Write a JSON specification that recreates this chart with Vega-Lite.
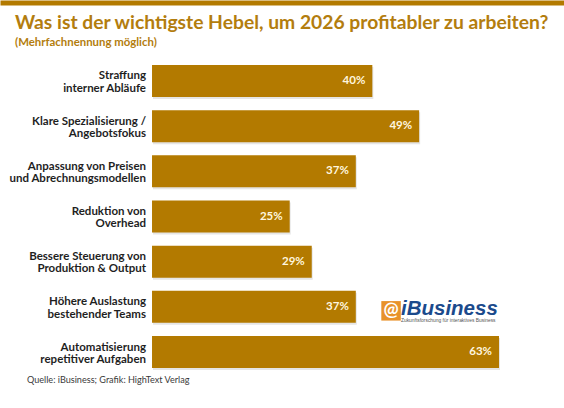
{
  "$schema": "https://vega.github.io/schema/vega-lite/v6.json",
  "width": 564,
  "height": 303,
  "autosize": "none",
  "padding": {"left": 0, "top": 65, "right": 0, "bottom": 40},
  "background": "white",
  "title": {
    "text": "Was ist der wichtigste Hebel, um 2026 profitabler zu arbeiten?",
    "subtitle": "(Mehrfachnennung möglich)",
    "anchor": "start",
    "frame": "group",
    "dx": 15,
    "offset": -46,
    "limit": 0,
    "font": "Lato",
    "fontSize": 19.3,
    "fontWeight": "bold",
    "color": "#B37D0E",
    "subtitleFont": "Lato",
    "subtitleFontSize": 11.4,
    "subtitleFontWeight": "bold",
    "subtitleColor": "#B37D0E",
    "subtitlePadding": 4
  },
  "datasets": {
    "bars": [
      {"frage": "Straffung|interner Abläufe", "anteil": 40, "label": "40%"},
      {"frage": "Klare Spezialisierung /|Angebotsfokus", "anteil": 48.5, "label": "49%"},
      {"frage": "Anpassung von Preisen|und Abrechnungsmodellen", "anteil": 37, "label": "37%"},
      {"frage": "Reduktion von|Overhead", "anteil": 25, "label": "25%"},
      {"frage": "Bessere Steuerung von|Produktion & Output", "anteil": 29, "label": "29%"},
      {"frage": "Höhere Auslastung|bestehender Teams", "anteil": 37, "label": "37%"},
      {"frage": "Automatisierung|repetitiver Aufgaben", "anteil": 63, "label": "63%"}
    ],
    "logo": [
      {"frage": "Höhere Auslastung|bestehender Teams", "pos": 43.4}
    ],
    "logotext": [
      {"frage": "Höhere Auslastung|bestehender Teams", "pos": 45.2}
    ],
    "quelle": [
      {"frage": "Automatisierung|repetitiver Aufgaben", "pos": -22.7, "text": "Quelle: iBusiness; Grafik: HighText Verlag"}
    ]
  },
  "encoding": {
    "y": {
      "field": "frage",
      "type": "nominal",
      "sort": null,
      "title": null,
      "axis": null,
      "scale": {"paddingInner": 0.2916, "paddingOuter": 0}
    }
  },
  "layer": [
    {
      "data": {"name": "bars"},
      "mark": {"type": "bar", "color": "#999999", "opacity": 0.25, "xOffset": 1, "yOffset": 2},
      "encoding": {
        "x": {
          "field": "anteil",
          "type": "quantitative",
          "scale": {"domain": [-27.6, 74.8], "nice": false, "zero": false},
          "axis": {
            "orient": "top",
            "offset": 62.5,
            "title": null,
            "labels": false,
            "ticks": false,
            "grid": false,
            "domain": true,
            "domainColor": "#B37A00",
            "domainWidth": 5
          }
        }
      }
    },
    {
      "data": {"name": "bars"},
      "mark": {"type": "bar", "color": "#B37A00"},
      "encoding": {"x": {"field": "anteil", "type": "quantitative"}}
    },
    {
      "data": {"name": "bars"},
      "mark": {"type": "text", "align": "right", "baseline": "middle", "dx": -7, "font": "Lato", "fontSize": 11.5, "fontWeight": "bold", "color": "#FFF6DF"},
      "encoding": {
        "x": {"field": "anteil", "type": "quantitative"},
        "text": {"field": "label"}
      }
    },
    {
      "data": {"name": "bars"},
      "mark": {"type": "text", "align": "right", "baseline": "middle", "dx": -6, "dy": -4.5, "lineBreak": "|", "lineHeight": 12.3, "font": "Lato", "fontSize": 11.5, "fontWeight": "bold", "color": "#1F1F1F"},
      "encoding": {
        "x": {"datum": 0},
        "text": {"field": "frage"}
      }
    },
    {
      "data": {"name": "quelle"},
      "mark": {"type": "text", "align": "left", "baseline": "middle", "dy": 28, "font": "Lato", "fontSize": 9.1, "color": "#3A3A3A"},
      "encoding": {
        "x": {"field": "pos", "type": "quantitative"},
        "text": {"field": "text"}
      }
    },
    {
      "data": {"name": "logo"},
      "mark": {"type": "point", "shape": "square", "filled": true, "size": 380, "opacity": 1, "color": "#E8922A", "yOffset": 4},
      "encoding": {"x": {"field": "pos", "type": "quantitative"}}
    },
    {
      "data": {"name": "logo"},
      "mark": {"type": "text", "text": "@", "align": "center", "baseline": "middle", "dy": 4, "font": "Lato", "fontSize": 18, "fontWeight": "bold", "color": "white"},
      "encoding": {"x": {"field": "pos", "type": "quantitative"}}
    },
    {
      "data": {"name": "logotext"},
      "mark": {"type": "text", "text": "iBusiness", "align": "left", "baseline": "middle", "dy": 2, "font": "Liberation Sans", "fontSize": 20.5, "fontWeight": "bold", "fontStyle": "italic", "color": "#1B4A8C"},
      "encoding": {"x": {"field": "pos", "type": "quantitative"}}
    },
    {
      "data": {"name": "logotext"},
      "mark": {"type": "text", "text": "Zukunftsforschung für interaktives Business", "align": "left", "baseline": "middle", "dy": 14, "font": "Liberation Sans", "fontSize": 4.9, "color": "#555555"},
      "encoding": {"x": {"field": "pos", "type": "quantitative"}}
    }
  ],
  "config": {"view": {"stroke": null}}
}
